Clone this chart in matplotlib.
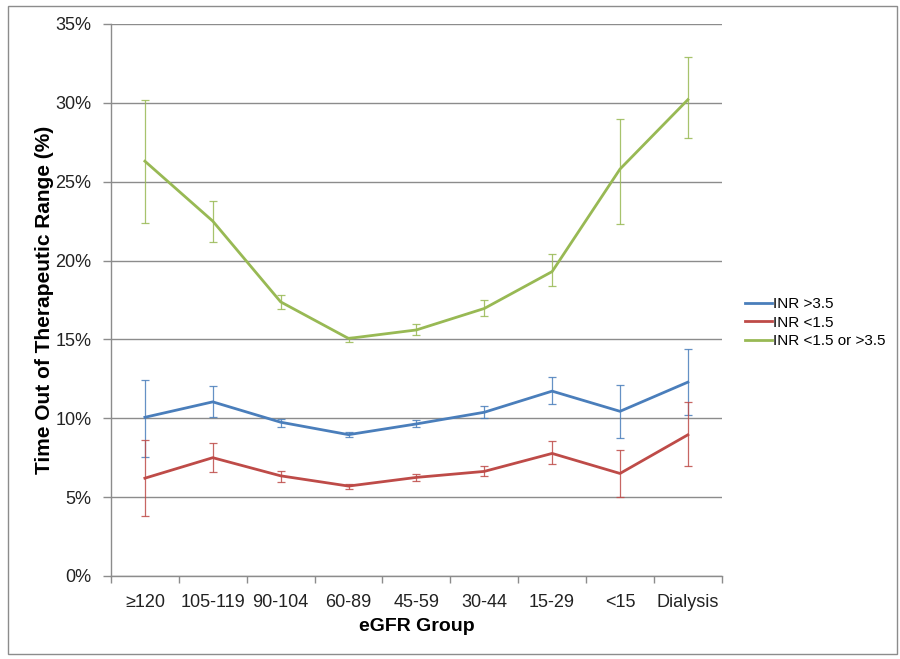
"""
Time out of therapeutic range by eGFR group, with error bars.
"""

import matplotlib
matplotlib.use("Agg")
import matplotlib.pyplot as plt
from matplotlib.patches import Rectangle
from matplotlib.ticker import FuncFormatter, FixedLocator

categories = ['\u2265120', '105-119', '90-104', '60-89', '45-59',
              '30-44', '15-29', '<15', 'Dialysis']

# INR >3.5
high = [10.06, 11.04, 9.75, 8.96, 9.64, 10.38, 11.72, 10.44, 12.29]
high_hi = [12.4, 12.03, 9.96, 9.13, 9.92, 10.76, 12.6, 12.1, 14.4]
high_lo = [7.57, 10.06, 9.43, 8.8, 9.43, 10.04, 10.9, 8.73, 10.2]

# INR <1.5
low = [6.2, 7.5, 6.35, 5.7, 6.25, 6.63, 7.77, 6.5, 8.95]
low_hi = [8.65, 8.45, 6.63, 5.83, 6.46, 6.95, 8.56, 7.98, 11.0]
low_lo = [3.8, 6.6, 5.97, 5.5, 5.99, 6.34, 7.08, 4.98, 6.95]

# INR <1.5 or >3.5
either = [26.3, 22.5, 17.38, 15.06, 15.6, 16.96, 19.3, 25.8, 30.2]
either_hi = [30.17, 23.76, 17.8, 15.16, 16.0, 17.5, 20.4, 28.97, 32.9]
either_lo = [22.35, 21.2, 16.9, 14.85, 15.3, 16.5, 18.4, 22.3, 27.75]

series = [
    ('INR >3.5', high, high_lo, high_hi, '#4a7ebb'),
    ('INR <1.5', low, low_lo, low_hi, '#be4b48'),
    ('INR <1.5 or >3.5', either, either_lo, either_hi, '#98b954'),
]

plt.rcParams['font.family'] = ['Liberation Sans', 'DejaVu Sans']

fig = plt.figure(figsize=(9, 6.59), dpi=100)
ax = fig.add_axes([0.1233, 0.126, 0.6787, 0.8376])

grey = '#8c8c8c'
x = list(range(len(categories)))

for name, vals, lo, hi, colour in series:
    yerr = [[v - l for v, l in zip(vals, lo)], [h - v for v, h in zip(vals, hi)]]
    ax.errorbar(x, vals, yerr=yerr, fmt='none', ecolor=colour, elinewidth=0.9,
                capsize=2.8, capthick=0.9, alpha=0.85, zorder=3)
    ax.plot(x, vals, color=colour, linewidth=2.0, label=name, zorder=4)

ax.set_xlim(-0.5, len(categories) - 0.5)
ax.set_ylim(0, 35)
ax.set_yticks([0, 5, 10, 15, 20, 25, 30, 35])
ax.yaxis.set_major_formatter(FuncFormatter(lambda v, p: '%d%%' % v))
ax.grid(axis='y', color=grey, linewidth=1.0)
ax.set_axisbelow(True)

ax.set_xticks(x)
ax.set_xticklabels(categories)
ax.xaxis.set_minor_locator(FixedLocator([i - 0.5 for i in range(len(categories) + 1)]))
ax.tick_params(axis='x', which='major', length=0, pad=13, labelsize=13, labelcolor='#222222')
ax.tick_params(axis='x', which='minor', length=5, color=grey, width=1)
ax.tick_params(axis='y', length=6, color=grey, width=1, labelsize=13, pad=8,
               labelcolor='#222222')

for side in ['top', 'right']:
    ax.spines[side].set_visible(False)
for side in ['left', 'bottom']:
    ax.spines[side].set_color(grey)
    ax.spines[side].set_linewidth(1.0)

ax.set_xlabel('eGFR Group', fontsize=14, fontweight='bold', labelpad=5)
ax.set_ylabel('Time Out of Therapeutic Range (%)', fontsize=15, fontweight='bold', labelpad=1)

fig.legend(loc='upper left', bbox_to_anchor=(0.828, 0.549), frameon=False,
           fontsize=11, handlelength=1.75, handletextpad=0.08, labelspacing=0.3,
           borderpad=0, borderaxespad=0)

fig.patches.append(Rectangle((0.009, 0.008), 0.988, 0.983, transform=fig.transFigure,
                             fill=False, edgecolor=grey, linewidth=1.0))

fig.savefig('out.png', dpi=100)
